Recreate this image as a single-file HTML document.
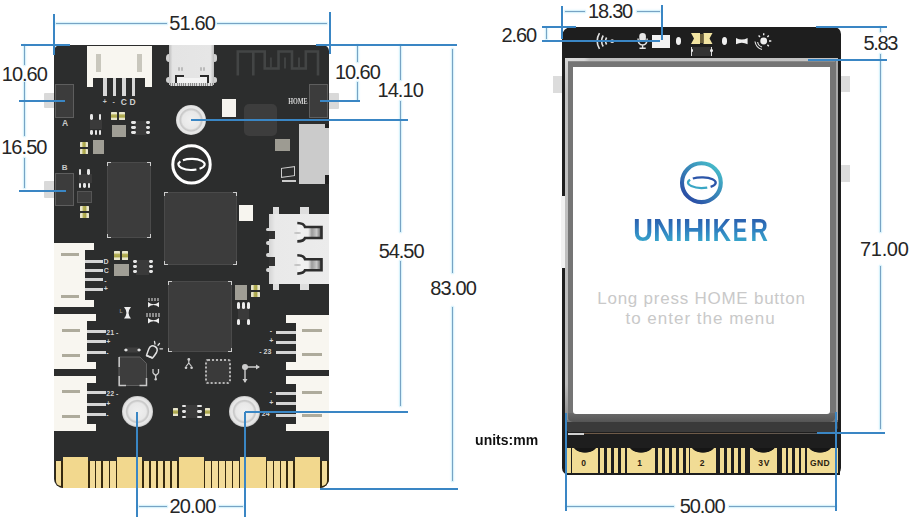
<!DOCTYPE html>
<html><head><meta charset="utf-8"><style>
html,body{margin:0;padding:0;background:#fff;}
#c{position:relative;width:918px;height:517px;overflow:hidden;background:#fff;font-family:"Liberation Sans",sans-serif;}
#c div{position:absolute;box-sizing:border-box;}
#c svg{position:absolute;}
.t{white-space:nowrap;}
</style></head><body><div id="c">
<div style="left:44px;top:93px;width:11px;height:15px;background:#d9d9d9;border-radius:1px"></div>
<div style="left:44px;top:181px;width:11px;height:17px;background:#d9d9d9;border-radius:1px"></div>
<div style="left:328px;top:93px;width:11px;height:16px;background:#d9d9d9;border-radius:1px"></div>
<div style="left:54px;top:44.5px;width:275px;height:443.5px;background:#2c2d2d;border-radius:6px 6px 9px 9px"></div>
<div style="left:86.6px;top:46px;width:65.4px;height:32px;background:#f8f6f0;"></div>
<div style="left:86.6px;top:78px;width:6.9px;height:9.4px;background:#f8f6f0;"></div>
<div style="left:145px;top:78px;width:7px;height:9.4px;background:#f8f6f0;"></div>
<div style="left:96px;top:54px;width:5px;height:18px;background:#c9c7bd;"></div>
<div style="left:137px;top:54px;width:5px;height:18px;background:#c9c7bd;"></div>
<div style="left:103px;top:78px;width:3.6px;height:18px;background:#d8d8d8;"></div>
<div style="left:112.7px;top:78px;width:3.6px;height:18px;background:#d8d8d8;"></div>
<div style="left:122px;top:78px;width:3.6px;height:18px;background:#d8d8d8;"></div>
<div style="left:131.5px;top:78px;width:3.6px;height:18px;background:#d8d8d8;"></div>
<div class="t" style="left:102.71px;top:97.98px;font-size:7px;line-height:7px;color:#c8c8c8;font-weight:700;letter-spacing:0.00px;">+</div>
<div class="t" style="left:112.43px;top:97.91px;font-size:7px;line-height:7px;color:#c8c8c8;font-weight:700;letter-spacing:0.00px;">-</div>
<div class="t" style="left:120.75px;top:97.74px;font-size:8.5px;line-height:8.5px;color:#d0d0d0;font-weight:700;letter-spacing:0.00px;">C</div>
<div class="t" style="left:129.53px;top:97.65px;font-size:8.5px;line-height:8.5px;color:#d0d0d0;font-weight:700;letter-spacing:0.00px;">D</div>
<div style="left:166px;top:54px;width:6px;height:7.6px;background:#d0d0d0;border-radius:50%"></div>
<div style="left:166px;top:77.2px;width:6px;height:6.3px;background:#d0d0d0;border-radius:50%"></div>
<div style="left:211.5px;top:54px;width:5.8px;height:7.6px;background:#d0d0d0;border-radius:50%"></div>
<div style="left:211.5px;top:77.2px;width:5.8px;height:6.3px;background:#d0d0d0;border-radius:50%"></div>
<div style="left:169px;top:44.5px;width:45.3px;height:40.8px;background:linear-gradient(90deg,#bdbdbd,#e4e4e4 8%,#e6e6e6 92%,#bdbdbd);"></div>
<div style="left:177.6px;top:66.7px;width:2.0px;height:4.0px;background:#bbbbbb;border-radius:1px"></div>
<div style="left:180.6px;top:66.7px;width:2.0px;height:4.0px;background:#bbbbbb;border-radius:1px"></div>
<div style="left:200.2px;top:66.7px;width:2.0px;height:4.0px;background:#bbbbbb;border-radius:1px"></div>
<div style="left:203.2px;top:66.7px;width:2.0px;height:4.0px;background:#bbbbbb;border-radius:1px"></div>
<div style="left:174.6px;top:74.7px;width:9.0px;height:8.6px;background:#f2f2f2;border-top:2.5px solid #2b2b2b;border-left:2.5px solid #2b2b2b"></div>
<div style="left:199.7px;top:74.7px;width:9.0px;height:8.6px;background:#f2f2f2;border-top:2.5px solid #2b2b2b;border-right:2.5px solid #2b2b2b"></div>
<div style="left:183.6px;top:78px;width:16.1px;height:5.3px;background:#f4f4f4;"></div>
<div style="left:170px;top:83.3px;width:43.3px;height:3.2px;background:repeating-linear-gradient(90deg,#8a8a8a 0 1px,#dcdcdc 1px 2.2px);"></div>
<svg style="left:230px;top:44px" width="95" height="38" viewBox="0 0 95 38"><path d="M7.8 31.5 V7.5 H23.3 V31.5 M23.3 7.5 H34.7 V24.5 H48.5 V7.5 H62 V24.5 H75.8 V7.5 H88 V31.5" fill="none" stroke="#434545" stroke-width="2.6"/><path d="M40.9 13.5 V24.5 M55 13.5 V24.5 M69 13.5 V24.5" fill="none" stroke="#404242" stroke-width="2"/></svg>
<div style="left:54.5px;top:84.4px;width:19.9px;height:34.0px;background:#3c3c3c;border:1px solid #5e5e5e"></div>
<div class="t" style="left:61.99px;top:118.65px;font-size:8.5px;line-height:8.5px;color:#c8c8c8;font-weight:700;letter-spacing:0.00px;">A</div>
<div style="left:309px;top:84.4px;width:18.6px;height:33.4px;background:#3c3c3c;border:1px solid #5e5e5e"></div>
<div class="t" style="left:288.10px;top:96.96px;font-size:9px;line-height:9px;color:#d8d8d8;font-weight:700;letter-spacing:0.00px;font-family:Liberation Serif;transform:scaleX(0.6834);transform-origin:0.60px 0;">HOME</div>
<div style="left:176px;top:105px;width:30px;height:30px;border-radius:50%;background:radial-gradient(circle at 50% 50%,#f0f0f0 0,#e8e8e8 8.8px,#cfcfcf 10.2px,#c8c8c8 11px,#e8e8e8 12.2px,#e4e4e4 14px,#cacaca 15.2px)"></div>
<div style="left:122.2px;top:396.2px;width:30.6px;height:30.6px;border-radius:50%;background:radial-gradient(circle at 50% 50%,#f0f0f0 0,#e8e8e8 8.8px,#cfcfcf 10.2px,#c8c8c8 11px,#e8e8e8 12.2px,#e4e4e4 14px,#cacaca 15.2px)"></div>
<div style="left:229.0px;top:396.0px;width:30.6px;height:30.6px;border-radius:50%;background:radial-gradient(circle at 50% 50%,#f0f0f0 0,#e8e8e8 8.8px,#cfcfcf 10.2px,#c8c8c8 11px,#e8e8e8 12.2px,#e4e4e4 14px,#cacaca 15.2px)"></div>
<div style="left:222px;top:99.3px;width:14px;height:17.7px;background:#f5f3ee;"></div>
<div style="left:244px;top:104px;width:33px;height:32px;background:#3d3d3d;border-radius:5px"></div>
<div style="left:275px;top:138.7px;width:15px;height:12.0px;background:#9d9b92;"></div>
<div style="left:299px;top:123.5px;width:30px;height:60.5px;background:#cbcbcb;"></div>
<div style="left:325px;top:123.5px;width:4px;height:4.7px;background:#222;"></div>
<div style="left:325px;top:175.4px;width:4px;height:8.6px;background:#222;"></div>
<div style="left:281px;top:167px;width:14px;height:10px;background:transparent;border:1.5px solid #ccc;transform:skewY(-8deg)"></div>
<div style="left:282px;top:180px;width:14px;height:2px;background:#ccc;"></div>
<svg style="left:170px;top:143px" width="44" height="44" viewBox="0 0 44 44"><circle cx="21.5" cy="21.4" r="18.7" fill="none" stroke="#fff" stroke-width="3"/><path d="M12.91 17.25 A13.1 5.5 0 1 1 29.57 25.73" fill="none" stroke="#fff" stroke-width="2.1"/><path d="M26.41 26.50 A13.1 5.5 0 0 1 10.39 18.49" fill="none" stroke="#fff" stroke-width="2.1"/></svg>
<div style="left:89.5px;top:120px;width:12.0px;height:9px;background:#3a3a3a;"></div>
<div style="left:90.2px;top:114px;width:2.8px;height:5.5px;background:#e6e6e6;border-radius:1.4px"></div>
<div style="left:98.7px;top:114px;width:2.8px;height:5.5px;background:#e6e6e6;border-radius:1.4px"></div>
<div style="left:90.2px;top:129.5px;width:2.8px;height:5.5px;background:#e6e6e6;border-radius:1.4px"></div>
<div style="left:94.5px;top:129.5px;width:2.8px;height:5.5px;background:#e6e6e6;border-radius:1.4px"></div>
<div style="left:98.7px;top:129.5px;width:2.8px;height:5.5px;background:#e6e6e6;border-radius:1.4px"></div>
<div style="left:111px;top:111.7px;width:6px;height:8.7px;background:linear-gradient(180deg,#e9e6cc 0,#e9e6cc 22%,#b5b058 36%,#a8a448 64%,#e9e6cc 78%,#e9e6cc 100%);border-radius:0.5px"></div>
<div style="left:119px;top:111.7px;width:6px;height:8.7px;background:linear-gradient(180deg,#e9e6cc 0,#e9e6cc 22%,#b5b058 36%,#a8a448 64%,#e9e6cc 78%,#e9e6cc 100%);border-radius:0.5px"></div>
<div style="left:111.8px;top:125.3px;width:13.9px;height:11.7px;background:#a09e95;"></div>
<div style="left:134px;top:121px;width:12px;height:14px;background:#3a3a3a;"></div>
<div style="left:131px;top:121.2px;width:4.5px;height:2.8px;background:#e6e6e6;border-radius:1.4px"></div>
<div style="left:145.5px;top:121.2px;width:4.5px;height:2.8px;background:#e6e6e6;border-radius:1.4px"></div>
<div style="left:131px;top:126.2px;width:4.5px;height:2.8px;background:#e6e6e6;border-radius:1.4px"></div>
<div style="left:145.5px;top:126.2px;width:4.5px;height:2.8px;background:#e6e6e6;border-radius:1.4px"></div>
<div style="left:131px;top:131.2px;width:4.5px;height:2.8px;background:#e6e6e6;border-radius:1.4px"></div>
<div style="left:145.5px;top:131.2px;width:4.5px;height:2.8px;background:#e6e6e6;border-radius:1.4px"></div>
<div style="left:80px;top:142.2px;width:8.3px;height:5.3px;background:linear-gradient(90deg,#e9e6cc 0,#e9e6cc 22%,#b5b058 36%,#a8a448 64%,#e9e6cc 78%,#e9e6cc 100%);border-radius:0.5px"></div>
<div style="left:80px;top:149.2px;width:8.3px;height:5.2px;background:linear-gradient(90deg,#e9e6cc 0,#e9e6cc 22%,#b5b058 36%,#a8a448 64%,#e9e6cc 78%,#e9e6cc 100%);border-radius:0.5px"></div>
<div style="left:92.7px;top:140px;width:11.3px;height:14px;background:#a09e95;"></div>
<div style="left:106.6px;top:162.2px;width:44.0px;height:75.7px;background:#3c3c3c;border:1px solid #4a4a4a"></div>
<div style="left:106.6px;top:162.2px;width:4px;height:4px;border-left:1.5px solid #ccc;border-top:1.5px solid #ccc"></div>
<div style="left:146.6px;top:162.2px;width:4px;height:4px;border-right:1.5px solid #ccc;border-top:1.5px solid #ccc"></div>
<div style="left:106.6px;top:233.9px;width:4px;height:4px;border-left:1.5px solid #ccc;border-bottom:1.5px solid #ccc"></div>
<div style="left:146.6px;top:233.9px;width:4px;height:4px;border-right:1.5px solid #ccc;border-bottom:1.5px solid #ccc"></div>
<div class="t" style="left:61.86px;top:163.93px;font-size:8px;line-height:8px;color:#c8c8c8;font-weight:700;letter-spacing:0.00px;">B</div>
<div style="left:54.5px;top:172.8px;width:19.7px;height:33.6px;background:#3c3c3c;border:1px solid #5e5e5e"></div>
<div style="left:78.5px;top:174px;width:13.0px;height:9px;background:#3a3a3a;"></div>
<div style="left:78.7px;top:169px;width:2.8px;height:5.5px;background:#e6e6e6;border-radius:1.4px"></div>
<div style="left:87.2px;top:169px;width:2.8px;height:5.5px;background:#e6e6e6;border-radius:1.4px"></div>
<div style="left:78.7px;top:182.5px;width:2.8px;height:5.5px;background:#e6e6e6;border-radius:1.4px"></div>
<div style="left:83.2px;top:182.5px;width:2.8px;height:5.5px;background:#e6e6e6;border-radius:1.4px"></div>
<div style="left:87.7px;top:182.5px;width:2.8px;height:5.5px;background:#e6e6e6;border-radius:1.4px"></div>
<div style="left:77px;top:191px;width:15px;height:12px;background:#3d3d3d;border:1px solid #555"></div>
<div style="left:80px;top:205.7px;width:9px;height:5.3px;background:linear-gradient(90deg,#e9e6cc 0,#e9e6cc 22%,#b5b058 36%,#a8a448 64%,#e9e6cc 78%,#e9e6cc 100%);border-radius:0.5px"></div>
<div style="left:80px;top:212.6px;width:9px;height:5.3px;background:linear-gradient(90deg,#e9e6cc 0,#e9e6cc 22%,#b5b058 36%,#a8a448 64%,#e9e6cc 78%,#e9e6cc 100%);border-radius:0.5px"></div>
<div style="left:163.7px;top:192.2px;width:73.2px;height:72.8px;background:#3c3c3c;border:1px solid #4a4a4a"></div>
<div style="left:163.7px;top:192.2px;width:4px;height:4px;border-left:1.5px solid #ccc;border-top:1.5px solid #ccc"></div>
<div style="left:232.9px;top:192.2px;width:4px;height:4px;border-right:1.5px solid #ccc;border-top:1.5px solid #ccc"></div>
<div style="left:163.7px;top:261px;width:4px;height:4px;border-left:1.5px solid #ccc;border-bottom:1.5px solid #ccc"></div>
<div style="left:232.9px;top:261px;width:4px;height:4px;border-right:1.5px solid #ccc;border-bottom:1.5px solid #ccc"></div>
<div style="left:238.7px;top:205.2px;width:13.9px;height:16.3px;background:#f7f5ef;"></div>
<div style="left:272.5px;top:207.4px;width:6.4px;height:6.6px;background:#dedede;"></div>
<div style="left:300px;top:207.4px;width:9.2px;height:6.6px;background:#dedede;"></div>
<div style="left:272.5px;top:283px;width:6.4px;height:7px;background:#dedede;"></div>
<div style="left:300px;top:283px;width:9.2px;height:7px;background:#dedede;"></div>
<div style="left:265.5px;top:227.5px;width:4.5px;height:3.5px;background:#d8d8d8;border-radius:2px 0 0 2px"></div>
<div style="left:265.5px;top:241px;width:4.5px;height:3.5px;background:#d8d8d8;border-radius:2px 0 0 2px"></div>
<div style="left:265.5px;top:253px;width:4.5px;height:3.5px;background:#d8d8d8;border-radius:2px 0 0 2px"></div>
<div style="left:265.5px;top:268px;width:4.5px;height:3.5px;background:#d8d8d8;border-radius:2px 0 0 2px"></div>
<div style="left:268.8px;top:213.8px;width:60.7px;height:69.9px;background:linear-gradient(90deg,#d4d4d4,#e9e9e9 10%,#ececec);"></div>
<div style="left:268.8px;top:231.3px;width:6.4px;height:8.2px;background:#333;"></div>
<div style="left:268.8px;top:257px;width:6.4px;height:9.2px;background:#333;"></div>
<svg style="left:296px;top:221px" width="28" height="56" viewBox="0 0 28 56"><defs><linearGradient id="ua" x1="0" x2="1"><stop offset="0" stop-color="#f2f2f2"/><stop offset="0.45" stop-color="#eeeeee"/><stop offset="0.6" stop-color="#9a9a9a"/><stop offset="0.8" stop-color="#c8c8c8"/><stop offset="1" stop-color="#555"/></linearGradient></defs><path d="M1.3 2 Q8 2.2 9 6 H25.5 V17 H9 Q8 20.3 1.3 20.4" fill="url(#ua)" stroke="#2e2e2e" stroke-width="2.6"/><path d="M1.3 34.2 Q8 34.4 9 38.2 H25.5 V49.2 H9 Q8 52.5 1.3 52.6" fill="url(#ua)" stroke="#2e2e2e" stroke-width="2.6"/></svg>
<div style="left:294px;top:231.5px;width:6.5px;height:2.5px;background:#c4c4c4;border-radius:50%"></div>
<div style="left:294px;top:263.5px;width:6.5px;height:2.5px;background:#c4c4c4;border-radius:50%"></div>
<div style="left:54px;top:243px;width:30.8px;height:64.4px;background:#f8f6f0;"></div>
<div style="left:83.8px;top:243px;width:10.6px;height:7px;background:#f8f6f0;"></div>
<div style="left:83.8px;top:300.4px;width:10.6px;height:7.0px;background:#f8f6f0;"></div>
<div style="left:84.8px;top:259.9px;width:18.2px;height:3.0px;background:#d5d5d5;"></div>
<div style="left:84.8px;top:268.9px;width:18.2px;height:3.0px;background:#d5d5d5;"></div>
<div style="left:84.8px;top:278.1px;width:18.2px;height:3.0px;background:#d5d5d5;"></div>
<div style="left:84.8px;top:288.0px;width:18.2px;height:3.0px;background:#d5d5d5;"></div>
<div style="left:61.3px;top:252.5px;width:17.4px;height:3.3px;background:#aeab9c;"></div>
<div style="left:61.3px;top:294.5px;width:17.4px;height:3.3px;background:#aeab9c;"></div>
<div class="t" style="left:103.53px;top:258.19px;font-size:7px;line-height:7px;color:#d2d2d2;font-weight:700;letter-spacing:0.00px;">D</div>
<div class="t" style="left:103.71px;top:267.26px;font-size:7px;line-height:7px;color:#d2d2d2;font-weight:700;letter-spacing:0.00px;">C</div>
<div class="t" style="left:104.23px;top:277.11px;font-size:7px;line-height:7px;color:#d2d2d2;font-weight:700;letter-spacing:0.00px;">-</div>
<div class="t" style="left:103.71px;top:285.48px;font-size:7px;line-height:7px;color:#d2d2d2;font-weight:700;letter-spacing:0.00px;">+</div>
<div style="left:54px;top:314.4px;width:32.6px;height:54.8px;background:#f8f6f0;"></div>
<div style="left:85.6px;top:314.4px;width:10.4px;height:7.0px;background:#f8f6f0;"></div>
<div style="left:85.6px;top:362.2px;width:10.4px;height:7.0px;background:#f8f6f0;"></div>
<div style="left:86.6px;top:330.3px;width:19.1px;height:3.0px;background:#d5d5d5;"></div>
<div style="left:86.6px;top:340.4px;width:19.1px;height:3.0px;background:#d5d5d5;"></div>
<div style="left:86.6px;top:351.2px;width:19.1px;height:3.0px;background:#d5d5d5;"></div>
<div style="left:62.0px;top:328.5px;width:18.0px;height:3.3px;background:#aeab9c;"></div>
<div style="left:62.0px;top:353.5px;width:18.0px;height:3.3px;background:#aeab9c;"></div>
<div class="t" style="left:106.36px;top:328.76px;font-size:7px;line-height:7px;color:#d2d2d2;font-weight:700;letter-spacing:0.00px;">21 -</div>
<div class="t" style="left:106.21px;top:338.48px;font-size:7px;line-height:7px;color:#d2d2d2;font-weight:700;letter-spacing:0.00px;">+</div>
<div class="t" style="left:106.23px;top:349.11px;font-size:7px;line-height:7px;color:#d2d2d2;font-weight:700;letter-spacing:0.00px;">-</div>
<div style="left:54px;top:376px;width:32.6px;height:55px;background:#f8f6f0;"></div>
<div style="left:85.6px;top:376px;width:10.4px;height:7px;background:#f8f6f0;"></div>
<div style="left:85.6px;top:424px;width:10.4px;height:7px;background:#f8f6f0;"></div>
<div style="left:86.6px;top:391.2px;width:19.1px;height:3.0px;background:#d5d5d5;"></div>
<div style="left:86.6px;top:402.5px;width:19.1px;height:3.0px;background:#d5d5d5;"></div>
<div style="left:86.6px;top:412.9px;width:19.1px;height:3.0px;background:#d5d5d5;"></div>
<div style="left:62.0px;top:389.5px;width:18.0px;height:3.3px;background:#aeab9c;"></div>
<div style="left:62.0px;top:414.5px;width:18.0px;height:3.3px;background:#aeab9c;"></div>
<div class="t" style="left:106.36px;top:389.76px;font-size:7px;line-height:7px;color:#d2d2d2;font-weight:700;letter-spacing:0.00px;">22 -</div>
<div class="t" style="left:106.21px;top:400.48px;font-size:7px;line-height:7px;color:#d2d2d2;font-weight:700;letter-spacing:0.00px;">+</div>
<div class="t" style="left:106.23px;top:411.11px;font-size:7px;line-height:7px;color:#d2d2d2;font-weight:700;letter-spacing:0.00px;">-</div>
<div style="left:114.4px;top:251px;width:6.1px;height:8.6px;background:linear-gradient(180deg,#e9e6cc 0,#e9e6cc 22%,#b5b058 36%,#a8a448 64%,#e9e6cc 78%,#e9e6cc 100%);border-radius:0.5px"></div>
<div style="left:121.5px;top:251px;width:6.0px;height:8.6px;background:linear-gradient(180deg,#e9e6cc 0,#e9e6cc 22%,#b5b058 36%,#a8a448 64%,#e9e6cc 78%,#e9e6cc 100%);border-radius:0.5px"></div>
<div style="left:114.4px;top:264px;width:14.8px;height:12.2px;background:#a09e95;"></div>
<div style="left:136px;top:260px;width:13px;height:14.5px;background:#3a3a3a;"></div>
<div style="left:133.2px;top:260.2px;width:4.3px;height:2.8px;background:#e6e6e6;border-radius:1.4px"></div>
<div style="left:148.5px;top:260.2px;width:4.5px;height:2.8px;background:#e6e6e6;border-radius:1.4px"></div>
<div style="left:133.2px;top:265.2px;width:4.3px;height:2.8px;background:#e6e6e6;border-radius:1.4px"></div>
<div style="left:148.5px;top:265.2px;width:4.5px;height:2.8px;background:#e6e6e6;border-radius:1.4px"></div>
<div style="left:133.2px;top:270.2px;width:4.3px;height:2.8px;background:#e6e6e6;border-radius:1.4px"></div>
<div style="left:148.5px;top:270.2px;width:4.5px;height:2.8px;background:#e6e6e6;border-radius:1.4px"></div>
<div style="left:168.3px;top:281px;width:63.9px;height:71.4px;background:#3c3c3c;border:1px solid #4a4a4a"></div>
<div style="left:168.3px;top:281px;width:4px;height:4px;border-left:1.5px solid #ccc;border-top:1.5px solid #ccc"></div>
<div style="left:228.2px;top:281px;width:4px;height:4px;border-right:1.5px solid #ccc;border-top:1.5px solid #ccc"></div>
<div style="left:168.3px;top:348.4px;width:4px;height:4px;border-left:1.5px solid #ccc;border-bottom:1.5px solid #ccc"></div>
<div style="left:228.2px;top:348.4px;width:4px;height:4px;border-right:1.5px solid #ccc;border-bottom:1.5px solid #ccc"></div>
<div style="left:235px;top:285.2px;width:11.7px;height:14.4px;background:#a09e95;"></div>
<div style="left:250.7px;top:284.8px;width:9.3px;height:5.2px;background:linear-gradient(90deg,#e9e6cc 0,#e9e6cc 22%,#b5b058 36%,#a8a448 64%,#e9e6cc 78%,#e9e6cc 100%);border-radius:0.5px"></div>
<div style="left:250.7px;top:291.6px;width:9.3px;height:5.3px;background:linear-gradient(90deg,#e9e6cc 0,#e9e6cc 22%,#b5b058 36%,#a8a448 64%,#e9e6cc 78%,#e9e6cc 100%);border-radius:0.5px"></div>
<div style="left:238px;top:306px;width:11px;height:14px;background:#3a3a3a;"></div>
<div style="left:236.7px;top:302px;width:3.1px;height:6.5px;background:#ececec;border-radius:1.5px"></div>
<div style="left:241.89999999999998px;top:302px;width:3.1px;height:6.5px;background:#ececec;border-radius:1.5px"></div>
<div style="left:247.1px;top:302px;width:3.1px;height:6.5px;background:#ececec;border-radius:1.5px"></div>
<div style="left:236.7px;top:318.5px;width:3.1px;height:6.5px;background:#ececec;border-radius:1.5px"></div>
<div style="left:247.1px;top:318.5px;width:3.1px;height:6.5px;background:#ececec;border-radius:1.5px"></div>
<div style="left:296px;top:315.4px;width:33px;height:54.2px;background:#f8f6f0;"></div>
<div style="left:286px;top:315.4px;width:11px;height:7.5px;background:#f8f6f0;"></div>
<div style="left:286px;top:362.1px;width:11px;height:7.5px;background:#f8f6f0;"></div>
<div style="left:275.7px;top:330.5px;width:20.3px;height:3.0px;background:#d5d5d5;"></div>
<div style="left:275.7px;top:340.7px;width:20.3px;height:3.0px;background:#d5d5d5;"></div>
<div style="left:275.7px;top:350.9px;width:20.3px;height:3.0px;background:#d5d5d5;"></div>
<div style="left:302.0px;top:328.5px;width:20.0px;height:3.3px;background:#aeab9c;"></div>
<div style="left:302.0px;top:352.5px;width:20.0px;height:3.3px;background:#aeab9c;"></div>
<div class="t" style="left:269.73px;top:326.61px;font-size:7px;line-height:7px;color:#d2d2d2;font-weight:700;letter-spacing:0.00px;">-</div>
<div class="t" style="left:269.21px;top:336.98px;font-size:7px;line-height:7px;color:#d2d2d2;font-weight:700;letter-spacing:0.00px;">+</div>
<div class="t" style="left:259.23px;top:348.26px;font-size:7px;line-height:7px;color:#d2d2d2;font-weight:700;letter-spacing:0.00px;">- 23</div>
<div style="left:296px;top:376px;width:33px;height:55px;background:#f8f6f0;"></div>
<div style="left:286px;top:376px;width:11px;height:7.5px;background:#f8f6f0;"></div>
<div style="left:286px;top:423.5px;width:11px;height:7.5px;background:#f8f6f0;"></div>
<div style="left:275.7px;top:392.2px;width:20.3px;height:3.0px;background:#d5d5d5;"></div>
<div style="left:275.7px;top:402.4px;width:20.3px;height:3.0px;background:#d5d5d5;"></div>
<div style="left:275.7px;top:413.5px;width:20.3px;height:3.0px;background:#d5d5d5;"></div>
<div style="left:302.0px;top:390.5px;width:20.0px;height:3.3px;background:#aeab9c;"></div>
<div style="left:302.0px;top:413.5px;width:20.0px;height:3.3px;background:#aeab9c;"></div>
<div class="t" style="left:269.73px;top:388.11px;font-size:7px;line-height:7px;color:#d2d2d2;font-weight:700;letter-spacing:0.00px;">-</div>
<div class="t" style="left:269.21px;top:398.98px;font-size:7px;line-height:7px;color:#d2d2d2;font-weight:700;letter-spacing:0.00px;">+</div>
<div class="t" style="left:261.76px;top:410.26px;font-size:7px;line-height:7px;color:#d2d2d2;font-weight:700;letter-spacing:0.00px;">24</div>
<div class="t" style="left:119.55px;top:308.63px;font-size:5.5px;line-height:5.5px;color:#aaa;font-weight:400;letter-spacing:0.00px;">L</div>
<svg style="left:123.8px;top:307.3px" width="7" height="11.5" viewBox="0 0 7 11.5"><path d="M0 0 H7 Q2.2 5.75 7 11.5 H0 Q4.8 5.75 0 0 Z" fill="#eee"/></svg>
<svg style="left:148.2px;top:302.4px" width="11.1" height="5.4" viewBox="0 0 11.1 5.4"><path d="M0 0 Q5.55 4.6 11.1 0 V5.4 Q5.55 0.8 0 5.4 Z" fill="#eee"/></svg>
<svg style="left:148.2px;top:318.1px" width="11.1" height="5.6" viewBox="0 0 11.1 5.6"><path d="M0 0 Q5.55 4.7 11.1 0 V5.6 Q5.55 0.9 0 5.6 Z" fill="#eee"/></svg>
<div style="left:147.8px;top:297.6px;width:11.9px;height:3.4px;background:repeating-linear-gradient(90deg,#8a8a8a 0 2px,transparent 2px 3px);"></div>
<div style="left:146.4px;top:313.2px;width:14.3px;height:3.5px;background:repeating-linear-gradient(90deg,#8a8a8a 0 2px,transparent 2px 3px);"></div>
<svg style="left:123px;top:346px" width="19" height="8" viewBox="0 0 19 8"><rect x="4" y="1.5" width="11" height="5" fill="#3e3e3e"/><path d="M0.8 4 L3 2.2 L5 4 L3 5.8Z M18.2 4 L16 2.2 L14 4 L16 5.8Z" fill="#e0e0e0"/></svg>
<svg style="left:143px;top:340px" width="21" height="21" viewBox="0 0 21 21"><path d="M3.5 15.5 Q5 11 6 8.5 Q8 4.5 12 6.5 Q15.5 8.5 13.5 12.5 Q12 15 9.5 18 Z" fill="none" stroke="#e0e0e0" stroke-width="1.5" stroke-linejoin="round"/><path d="M3.5 15.5 L9.5 18" stroke="#e0e0e0" stroke-width="1.8"/><path d="M11.5 1.5 L12 4 M16.5 3.5 L15 5.2 M19.5 8.8 L17 8.8" stroke="#e0e0e0" stroke-width="1.3" stroke-linecap="round"/></svg>
<svg style="left:118px;top:356px" width="30" height="31" viewBox="0 0 30 31"><path d="M1 1 H22 L28.5 7.5 V29.5 H1 Z" fill="#3d3d3d" stroke="#606060" stroke-width="1"/><path d="M1.2 1 V11 M1.2 20 V29.5 H8 M21.5 29.5 H28.5 V22" fill="none" stroke="#c8c8c8" stroke-width="1.5"/></svg>
<svg style="left:151px;top:368px" width="10" height="13" viewBox="0 0 10 13"><path d="M2 1 V5 M7.5 1 V5 M2 5 L4.7 7.5 L7.5 5 M4.7 7.5 V11" fill="none" stroke="#cfcfcf" stroke-width="1.3"/><circle cx="4.7" cy="11.3" r="1.2" fill="#cfcfcf"/></svg>
<div style="left:205.4px;top:359.4px;width:25.9px;height:25.0px;background:#3a3a3a;border:2px dotted #b5b5b5;border-radius:3px"></div>
<svg style="left:239px;top:360px" width="26" height="28" viewBox="0 0 26 28"><circle cx="6" cy="7" r="3" fill="#ccc"/><path d="M6 7 H20 M6 7 V22" stroke="#ccc" stroke-width="1.4"/><path d="M17 4.5 L21 7 L17 9.5Z M3.5 19 L6 23 L8.5 19Z" fill="#ccc"/></svg>
<svg style="left:183.5px;top:357px" width="10" height="14" viewBox="0 0 10 14"><circle cx="4.8" cy="2.5" r="1.4" fill="#d0d0d0"/><path d="M4.8 3.5 V6 M4.8 6 L2 9.5 M4.8 6 L7.6 9.5" stroke="#d0d0d0" stroke-width="1.2"/><circle cx="2" cy="10.8" r="1.3" fill="#d0d0d0"/><circle cx="7.6" cy="10.8" r="1.3" fill="#d0d0d0"/></svg>
<div style="left:172.8px;top:407.5px;width:5.2px;height:8.5px;background:linear-gradient(180deg,#e9e6cc 0,#e9e6cc 22%,#b5b058 36%,#a8a448 64%,#e9e6cc 78%,#e9e6cc 100%);border-radius:0.5px"></div>
<div style="left:205px;top:407.5px;width:5.2px;height:8.5px;background:linear-gradient(180deg,#e9e6cc 0,#e9e6cc 22%,#b5b058 36%,#a8a448 64%,#e9e6cc 78%,#e9e6cc 100%);border-radius:0.5px"></div>
<div style="left:185px;top:405px;width:13px;height:12.8px;background:#3a3a3a;"></div>
<div style="left:181.5px;top:404.7px;width:4.5px;height:2.8px;background:#e6e6e6;border-radius:1.4px"></div>
<div style="left:197px;top:404.7px;width:4.5px;height:2.8px;background:#e6e6e6;border-radius:1.4px"></div>
<div style="left:181.5px;top:410.09999999999997px;width:4.5px;height:2.8px;background:#e6e6e6;border-radius:1.4px"></div>
<div style="left:197px;top:410.09999999999997px;width:4.5px;height:2.8px;background:#e6e6e6;border-radius:1.4px"></div>
<div style="left:181.5px;top:415.5px;width:4.5px;height:2.8px;background:#e6e6e6;border-radius:1.4px"></div>
<div style="left:197px;top:415.5px;width:4.5px;height:2.8px;background:#e6e6e6;border-radius:1.4px"></div>
<div style="left:55px;top:460.5px;width:274px;height:27.5px;background:#35290f;border-radius:0 0 9px 9px"></div>
<div style="left:62.5px;top:457.4px;width:25.3px;height:30.4px;background:#f2d88e;"></div>
<div style="left:117.4px;top:457.4px;width:24.9px;height:30.4px;background:#f2d88e;"></div>
<div style="left:178.7px;top:457.4px;width:25.3px;height:30.4px;background:#f2d88e;"></div>
<div style="left:240px;top:457.4px;width:25.5px;height:30.4px;background:#f2d88e;"></div>
<div style="left:295px;top:457.4px;width:25.2px;height:30.4px;background:#f2d88e;"></div>
<div style="left:89.7px;top:460.5px;width:5.1px;height:27.3px;background:#f3dc9a;"></div>
<div style="left:96.2px;top:460.5px;width:5.1px;height:27.3px;background:#f3dc9a;"></div>
<div style="left:103.4px;top:460.5px;width:5.2px;height:27.3px;background:#f3dc9a;"></div>
<div style="left:110.4px;top:460.5px;width:5.2px;height:27.3px;background:#f3dc9a;"></div>
<div style="left:144.29999999999998px;top:460.5px;width:5.1px;height:27.3px;background:#f3dc9a;"></div>
<div style="left:151.1px;top:460.5px;width:5.2px;height:27.3px;background:#f3dc9a;"></div>
<div style="left:158.29999999999998px;top:460.5px;width:5.2px;height:27.3px;background:#f3dc9a;"></div>
<div style="left:165.1px;top:460.5px;width:5.2px;height:27.3px;background:#f3dc9a;"></div>
<div style="left:172.0px;top:460.5px;width:5.2px;height:27.3px;background:#f3dc9a;"></div>
<div style="left:205.39999999999998px;top:460.5px;width:5.3px;height:27.3px;background:#f3dc9a;"></div>
<div style="left:212.39999999999998px;top:460.5px;width:5.3px;height:27.3px;background:#f3dc9a;"></div>
<div style="left:219.39999999999998px;top:460.5px;width:5.3px;height:27.3px;background:#f3dc9a;"></div>
<div style="left:226.29999999999998px;top:460.5px;width:5.3px;height:27.3px;background:#f3dc9a;"></div>
<div style="left:233.29999999999998px;top:460.5px;width:5.3px;height:27.3px;background:#f3dc9a;"></div>
<div style="left:267.3px;top:460.5px;width:5.3px;height:27.3px;background:#f3dc9a;"></div>
<div style="left:274.2px;top:460.5px;width:5.4px;height:27.3px;background:#f3dc9a;"></div>
<div style="left:281.2px;top:460.5px;width:5.3px;height:27.3px;background:#f3dc9a;"></div>
<div style="left:288.2px;top:460.5px;width:5.3px;height:27.3px;background:#f3dc9a;"></div>
<div style="left:55.8px;top:460.5px;width:4.9px;height:25.5px;background:#f3dc9a;border-radius:0 0 0 5px"></div>
<div style="left:322.3px;top:460.5px;width:5.0px;height:25.5px;background:#f3dc9a;border-radius:0 0 5px 0"></div>
<div style="left:553px;top:76px;width:11px;height:17px;background:#dcdcdc;"></div>
<div style="left:840px;top:76px;width:10px;height:16px;background:#dcdcdc;"></div>
<div style="left:840px;top:165px;width:10px;height:17px;background:#dcdcdc;"></div>
<div style="left:562.2px;top:27.4px;width:278.8px;height:448.1px;background:#1e1e1e;border-radius:9px 7px 7px 7px"></div>
<div style="left:561px;top:196px;width:4.5px;height:72px;background:#f2f2f2;"></div>
<div style="left:565.2px;top:58.3px;width:272.8px;height:374.2px;background:#757575;border-radius:1px 1px 6px 6px"></div>
<div style="left:565.2px;top:58.3px;width:272.8px;height:2.3px;background:linear-gradient(90deg,#dadada,#d6d6d6 7%,#bdbdbd 9%,#c4c4c4);"></div>
<div style="left:565.2px;top:58.3px;width:2.6px;height:361.7px;background:linear-gradient(180deg,#d6d6d6,#c2c2c2 10%,#bcbcbc 90%,#8a8a8a);"></div>
<div style="left:835.5px;top:60.6px;width:2.5px;height:359.4px;background:#a8a8a8;"></div>
<div style="left:567.8px;top:60.6px;width:267.7px;height:1.9px;background:#8a8a8a;"></div>
<div style="left:565.2px;top:421.7px;width:272.8px;height:10.8px;background:#3a3a3a;border-radius:0 0 6px 6px"></div>
<div style="left:567.8px;top:413px;width:267.7px;height:8.7px;background:linear-gradient(180deg,#6a6a6a,#555);border-radius:0 0 5px 5px"></div>
<div style="left:573.4px;top:66.6px;width:257.0px;height:347.2px;background:#ffffff;border-radius:0 0 3px 3px"></div>
<div style="left:567.6px;top:432.8px;width:16.4px;height:1.8px;background:#d0d0d0;"></div>
<div style="left:584px;top:432.8px;width:234px;height:1.6px;background:linear-gradient(90deg,#6e5a48,#6e5a48 70%,#555 100%);"></div>
<svg style="left:594px;top:32px" width="22" height="19" viewBox="0 0 22 19"><path d="M5.5 1.2 Q0.8 9 5.5 16.8 M9.2 3.5 Q6 9 9.2 14.5 M12.6 5.5 Q10.6 9 12.6 12.5" fill="none" stroke="#e2e2e2" stroke-width="1.6"/><circle cx="18.2" cy="9.2" r="1.9" fill="#e2e2e2"/></svg>
<svg style="left:637px;top:32px" width="12" height="18" viewBox="0 0 12 18"><rect x="2.3" y="0.9" width="6.6" height="9" rx="3.3" fill="#e6e6e6"/><path d="M1 6.5 Q1 13 5.6 13 Q10.2 13 10.2 6.5 M5.6 13 V16 M2.5 16.3 H8.7" fill="none" stroke="#e6e6e6" stroke-width="1.4"/></svg>
<div style="left:652.3px;top:34.8px;width:17.6px;height:13.0px;background:#f2f2f2;"></div>
<div style="left:675.7px;top:37.3px;width:5.4px;height:8.1px;background:#f0f0f0;border-radius:50%"></div>
<svg style="left:690.5px;top:32.5px" width="22" height="12" viewBox="0 0 22 12"><path d="M0 0 H9 V11 H0 L3 5.5 Z M21.5 0 H12.5 V11 H21.5 L18.5 5.5 Z" fill="#f2e4a2"/><rect x="9" y="1" width="3.5" height="9" fill="#6a5e3a"/></svg>
<div style="left:691px;top:47px;width:21.4px;height:9.3px;background:#333;border-left:1.5px solid #ddd;border-right:1.5px solid #ddd"></div>
<div style="left:690.5px;top:49px;width:2.5px;height:3px;background:#eee;border-radius:50%"></div>
<div style="left:710px;top:49px;width:2.5px;height:3px;background:#eee;border-radius:50%"></div>
<div style="left:722.3px;top:37.3px;width:5.1px;height:7.7px;background:#f0f0f0;border-radius:50%"></div>
<svg style="left:736px;top:38.4px" width="12" height="7" viewBox="0 0 12 7"><path d="M0 0 Q5.8 3 11.6 0 V6.2 Q5.8 3.2 0 6.2 Z" fill="#eee"/></svg>
<svg style="left:753px;top:32px" width="20" height="19" viewBox="0 0 20 19"><circle cx="10.7" cy="9" r="3.4" fill="#eee"/><path d="M10.7 1.2 V3.3 M15.8 3.6 L14.4 5 M18.3 9 H16 M15.8 14.2 L14.4 12.8 M5.6 3.6 L7 5" stroke="#eee" stroke-width="1.4"/><path d="M2 9.5 Q2.8 15.5 9 17.6 M4.6 10 Q5.3 13.8 9 15" fill="none" stroke="#e4e4e4" stroke-width="1.1"/></svg>
<svg style="left:675px;top:157px" width="52" height="52" viewBox="0 0 52 52"><defs><linearGradient id="lg" x1="0.85" y1="0.1" x2="0.15" y2="0.9"><stop offset="0" stop-color="#45b7c8"/><stop offset="1" stop-color="#2a4ea6"/></linearGradient></defs><circle cx="26.4" cy="25.7" r="19.4" fill="none" stroke="url(#lg)" stroke-width="4.1"/><path d="M17.82 21.52 A14 5.4 0 1 1 35.62 29.86" fill="none" stroke="#2b55a8" stroke-width="2.3"/><path d="M32.24 30.61 A14 5.4 0 0 1 15.13 22.74" fill="none" stroke="#3aa6c4" stroke-width="2.3"/></svg>
<div class="t" style="left:633.42px;top:214.83px;font-size:31.3px;line-height:31.3px;color:transparent;font-weight:700;letter-spacing:0.00px;background:linear-gradient(180deg,#2a55a8 0%,#2f7cbf 45%,#3ab4cf 100%);-webkit-background-clip:text;background-clip:text;transform:scaleX(0.8717);transform-origin:1.88px 0;">U</div>
<div class="t" style="left:653.41px;top:214.83px;font-size:31.3px;line-height:31.3px;color:transparent;font-weight:700;letter-spacing:0.00px;background:linear-gradient(180deg,#2a55a8 0%,#2f7cbf 45%,#3ab4cf 100%);-webkit-background-clip:text;background-clip:text;transform:scaleX(0.9510);transform-origin:2.09px 0;">N</div>
<div class="t" style="left:675.21px;top:214.83px;font-size:31.3px;line-height:31.3px;color:transparent;font-weight:700;letter-spacing:0.00px;background:linear-gradient(180deg,#2a55a8 0%,#2f7cbf 45%,#3ab4cf 100%);-webkit-background-clip:text;background-clip:text;transform:scaleX(0.8207);transform-origin:2.09px 0;">I</div>
<div class="t" style="left:683.21px;top:214.83px;font-size:31.3px;line-height:31.3px;color:transparent;font-weight:700;letter-spacing:0.00px;background:linear-gradient(180deg,#2a55a8 0%,#2f7cbf 45%,#3ab4cf 100%);-webkit-background-clip:text;background-clip:text;transform:scaleX(0.9456);transform-origin:2.09px 0;">H</div>
<div class="t" style="left:704.31px;top:214.83px;font-size:31.3px;line-height:31.3px;color:transparent;font-weight:700;letter-spacing:0.00px;background:linear-gradient(180deg,#2a55a8 0%,#2f7cbf 45%,#3ab4cf 100%);-webkit-background-clip:text;background-clip:text;transform:scaleX(0.8207);transform-origin:2.09px 0;">I</div>
<div class="t" style="left:711.91px;top:214.83px;font-size:31.3px;line-height:31.3px;color:transparent;font-weight:700;letter-spacing:0.00px;background:linear-gradient(180deg,#2a55a8 0%,#2f7cbf 45%,#3ab4cf 100%);-webkit-background-clip:text;background-clip:text;transform:scaleX(0.8160);transform-origin:2.09px 0;">K</div>
<div class="t" style="left:732.31px;top:214.83px;font-size:31.3px;line-height:31.3px;color:transparent;font-weight:700;letter-spacing:0.00px;background:linear-gradient(180deg,#2a55a8 0%,#2f7cbf 45%,#3ab4cf 100%);-webkit-background-clip:text;background-clip:text;transform:scaleX(0.6947);transform-origin:2.09px 0;">E</div>
<div class="t" style="left:749.81px;top:214.83px;font-size:31.3px;line-height:31.3px;color:transparent;font-weight:700;letter-spacing:0.00px;background:linear-gradient(180deg,#2a55a8 0%,#2f7cbf 45%,#3ab4cf 100%);-webkit-background-clip:text;background-clip:text;transform:scaleX(0.7701);transform-origin:2.09px 0;">R</div>
<div class="t" style="left:597.21px;top:289.92px;font-size:17px;line-height:17px;color:#c9c9c9;font-weight:400;letter-spacing:0.76px;">Long press HOME button</div>
<div class="t" style="left:625.44px;top:309.92px;font-size:17px;line-height:17px;color:#c9c9c9;font-weight:400;letter-spacing:1.00px;">to enter the menu</div>
<div style="left:566px;top:448px;width:274px;height:27px;background:#1e1e1e;"></div>
<div style="left:571.5px;top:448.2px;width:26.3px;height:25.3px;background:radial-gradient(ellipse 13px 9px at 50% -4px,#161616 92%,#f1dc95 100%);"></div>
<div style="left:627px;top:448.2px;width:27.5px;height:25.3px;background:radial-gradient(ellipse 13px 9px at 50% -4px,#161616 92%,#f1dc95 100%);"></div>
<div style="left:689.8px;top:448.2px;width:26.7px;height:25.3px;background:radial-gradient(ellipse 13px 9px at 50% -4px,#161616 92%,#f1dc95 100%);"></div>
<div style="left:750.3px;top:448.2px;width:27.1px;height:25.3px;background:radial-gradient(ellipse 13px 9px at 50% -4px,#161616 92%,#f1dc95 100%);"></div>
<div style="left:807px;top:448.2px;width:25.6px;height:25.3px;background:radial-gradient(ellipse 13px 9px at 50% -4px,#161616 92%,#f1dc95 100%);"></div>
<div style="left:566px;top:448.2px;width:4.7px;height:25.3px;background:#f1dc95;"></div>
<div style="left:600px;top:448.2px;width:4px;height:25.3px;background:#f1dc95;"></div>
<div style="left:607px;top:448.2px;width:4px;height:25.3px;background:#f1dc95;"></div>
<div style="left:614px;top:448.2px;width:4px;height:25.3px;background:#f1dc95;"></div>
<div style="left:621px;top:448.2px;width:4px;height:25.3px;background:#f1dc95;"></div>
<div style="left:657.5px;top:448.2px;width:4.0px;height:25.3px;background:#f1dc95;"></div>
<div style="left:664.5px;top:448.2px;width:4.0px;height:25.3px;background:#f1dc95;"></div>
<div style="left:671.5px;top:448.2px;width:4.0px;height:25.3px;background:#f1dc95;"></div>
<div style="left:678.5px;top:448.2px;width:4.0px;height:25.3px;background:#f1dc95;"></div>
<div style="left:685.5px;top:448.2px;width:3.5px;height:25.3px;background:#f1dc95;"></div>
<div style="left:720px;top:448.2px;width:4px;height:25.3px;background:#f1dc95;"></div>
<div style="left:727px;top:448.2px;width:4px;height:25.3px;background:#f1dc95;"></div>
<div style="left:734px;top:448.2px;width:4px;height:25.3px;background:#f1dc95;"></div>
<div style="left:741px;top:448.2px;width:4px;height:25.3px;background:#f1dc95;"></div>
<div style="left:781.6px;top:448.2px;width:4.0px;height:25.3px;background:#f1dc95;"></div>
<div style="left:788.2px;top:448.2px;width:4.0px;height:25.3px;background:#f1dc95;"></div>
<div style="left:794.8px;top:448.2px;width:4.0px;height:25.3px;background:#f1dc95;"></div>
<div style="left:801.4px;top:448.2px;width:4.0px;height:25.3px;background:#f1dc95;"></div>
<div style="left:833.4px;top:448.2px;width:5.1px;height:25.3px;background:#f1dc95;"></div>
<div class="t" style="left:581.31px;top:458.74px;font-size:8.5px;line-height:8.5px;color:#2a2210;font-weight:700;letter-spacing:0.00px;">0</div>
<div class="t" style="left:637.21px;top:458.65px;font-size:8.5px;line-height:8.5px;color:#2a2210;font-weight:700;letter-spacing:0.00px;">1</div>
<div class="t" style="left:699.86px;top:458.74px;font-size:8.5px;line-height:8.5px;color:#2a2210;font-weight:700;letter-spacing:0.00px;">2</div>
<div class="t" style="left:758.15px;top:458.74px;font-size:8.5px;line-height:8.5px;color:#2a2210;font-weight:700;letter-spacing:0.86px;">3V</div>
<div class="t" style="left:809.95px;top:458.74px;font-size:8.5px;line-height:8.5px;color:#2a2210;font-weight:700;letter-spacing:0.41px;">GND</div>
<div style="left:52.5px;top:14px;width:2.0px;height:41px;background:#3a86c4;z-index:2;"></div>
<div style="left:328.5px;top:12px;width:2.0px;height:42px;background:#3a86c4;z-index:2;"></div>
<div style="left:56px;top:23.0px;width:110.7px;height:1.0px;background:#78a3c4;box-shadow:0 0 1.5px 1px rgba(200,236,248,0.9);"></div>
<div style="left:216.7px;top:23.0px;width:110.3px;height:1.0px;background:#78a3c4;box-shadow:0 0 1.5px 1px rgba(200,236,248,0.9);"></div>
<div style="left:21px;top:43.7px;width:49px;height:2.0px;background:#3a86c4;z-index:2;"></div>
<div style="left:316px;top:43.7px;width:141px;height:2.0px;background:#3a86c4;z-index:2;"></div>
<div style="left:24.0px;top:44.7px;width:1.0px;height:19.9px;background:#78a3c4;box-shadow:0 0 1.5px 1px rgba(200,236,248,0.9);"></div>
<div style="left:24.0px;top:82px;width:1.0px;height:54.4px;background:#78a3c4;box-shadow:0 0 1.5px 1px rgba(200,236,248,0.9);"></div>
<div style="left:24.0px;top:158.4px;width:1.0px;height:29.6px;background:#78a3c4;box-shadow:0 0 1.5px 1px rgba(200,236,248,0.9);"></div>
<div style="left:18.6px;top:100.4px;width:46.5px;height:2.0px;background:#3a86c4;z-index:2;"></div>
<div style="left:18.6px;top:190.1px;width:47.5px;height:2.0px;background:#3a86c4;z-index:2;"></div>
<div style="left:357.0px;top:45px;width:1.0px;height:17px;background:#78a3c4;box-shadow:0 0 1.5px 1px rgba(200,236,248,0.9);"></div>
<div style="left:357.0px;top:82px;width:1.0px;height:18px;background:#78a3c4;box-shadow:0 0 1.5px 1px rgba(200,236,248,0.9);"></div>
<div style="left:320px;top:99.5px;width:40px;height:2.0px;background:#3a86c4;z-index:2;"></div>
<div style="left:400.0px;top:45px;width:1.0px;height:35px;background:#78a3c4;box-shadow:0 0 1.5px 1px rgba(200,236,248,0.9);"></div>
<div style="left:400.0px;top:101px;width:1.0px;height:131px;background:#78a3c4;box-shadow:0 0 1.5px 1px rgba(200,236,248,0.9);"></div>
<div style="left:400.0px;top:261px;width:1.0px;height:144.5px;background:#78a3c4;box-shadow:0 0 1.5px 1px rgba(200,236,248,0.9);"></div>
<div style="left:191px;top:119.0px;width:217px;height:2.0px;background:#3a86c4;z-index:2;"></div>
<div style="left:245px;top:411.2px;width:163px;height:2.0px;background:#3a86c4;z-index:2;"></div>
<div style="left:452.0px;top:49px;width:1.0px;height:224px;background:#78a3c4;box-shadow:0 0 1.5px 1px rgba(200,236,248,0.9);"></div>
<div style="left:452.0px;top:307px;width:1.0px;height:174px;background:#78a3c4;box-shadow:0 0 1.5px 1px rgba(200,236,248,0.9);"></div>
<div style="left:320px;top:487.8px;width:138px;height:2.0px;background:#3a86c4;z-index:2;"></div>
<div style="left:136.0px;top:412px;width:2.0px;height:105px;background:#3a86c4;z-index:2;"></div>
<div style="left:244.0px;top:412px;width:2.0px;height:105px;background:#3a86c4;z-index:2;"></div>
<div style="left:139px;top:506.0px;width:28px;height:1.0px;background:#78a3c4;box-shadow:0 0 1.5px 1px rgba(200,236,248,0.9);"></div>
<div style="left:219px;top:506.0px;width:24.3px;height:1.0px;background:#78a3c4;box-shadow:0 0 1.5px 1px rgba(200,236,248,0.9);"></div>
<div style="left:561.3px;top:6px;width:2.0px;height:33px;background:#3a86c4;z-index:2;"></div>
<div style="left:660.5px;top:5px;width:2.0px;height:35.4px;background:#3a86c4;z-index:2;"></div>
<div style="left:564.5px;top:11.0px;width:20.5px;height:1.0px;background:#78a3c4;box-shadow:0 0 1.5px 1px rgba(200,236,248,0.9);"></div>
<div style="left:637px;top:11.0px;width:23px;height:1.0px;background:#78a3c4;box-shadow:0 0 1.5px 1px rgba(200,236,248,0.9);"></div>
<div style="left:541.6px;top:25.5px;width:34.4px;height:2.0px;background:#3a86c4;z-index:2;"></div>
<div style="left:541.6px;top:40.2px;width:118.0px;height:2.0px;background:#3a86c4;z-index:2;"></div>
<div style="left:546.0px;top:28px;width:1.0px;height:11px;background:#78a3c4;box-shadow:0 0 1.5px 1px rgba(200,236,248,0.9);"></div>
<div style="left:816px;top:25.5px;width:71px;height:2.0px;background:#3a86c4;z-index:2;"></div>
<div style="left:808px;top:58.5px;width:79px;height:2.0px;background:#3a86c4;z-index:2;"></div>
<div style="left:880.0px;top:27px;width:1.0px;height:4.5px;background:#78a3c4;box-shadow:0 0 1.5px 1px rgba(200,236,248,0.9);"></div>
<div style="left:880.0px;top:53.5px;width:1.0px;height:178.8px;background:#78a3c4;box-shadow:0 0 1.5px 1px rgba(200,236,248,0.9);"></div>
<div style="left:880.0px;top:266px;width:1.0px;height:163px;background:#78a3c4;box-shadow:0 0 1.5px 1px rgba(200,236,248,0.9);"></div>
<div style="left:816.6px;top:432.0px;width:68.8px;height:2.0px;background:#3a86c4;z-index:2;"></div>
<div style="left:564.7px;top:413px;width:2.0px;height:98px;background:#3a86c4;z-index:2;"></div>
<div style="left:835.4px;top:411.8px;width:2.0px;height:99.2px;background:#3a86c4;z-index:2;"></div>
<div style="left:566px;top:506.0px;width:108px;height:1.0px;background:#78a3c4;box-shadow:0 0 1.5px 1px rgba(200,236,248,0.9);"></div>
<div style="left:729px;top:506.0px;width:107px;height:1.0px;background:#78a3c4;box-shadow:0 0 1.5px 1px rgba(200,236,248,0.9);"></div>
<div class="t" style="left:169.20px;top:12.73px;font-size:20px;line-height:20px;color:#262626;font-weight:400;letter-spacing:-0.87px;">51.60</div>
<div class="t" style="left:1.78px;top:64.33px;font-size:20px;line-height:20px;color:#262626;font-weight:400;letter-spacing:-1.01px;">10.60</div>
<div class="t" style="left:1.18px;top:137.43px;font-size:20px;line-height:20px;color:#262626;font-weight:400;letter-spacing:-0.94px;">16.50</div>
<div class="t" style="left:334.98px;top:62.23px;font-size:20px;line-height:20px;color:#262626;font-weight:400;letter-spacing:-1.06px;">10.60</div>
<div class="t" style="left:377.48px;top:80.43px;font-size:20px;line-height:20px;color:#262626;font-weight:400;letter-spacing:-0.94px;">14.10</div>
<div class="t" style="left:378.70px;top:240.63px;font-size:20px;line-height:20px;color:#262626;font-weight:400;letter-spacing:-1.04px;">54.50</div>
<div class="t" style="left:430.13px;top:277.93px;font-size:20px;line-height:20px;color:#262626;font-weight:400;letter-spacing:-0.85px;">83.00</div>
<div class="t" style="left:169.49px;top:496.23px;font-size:20px;line-height:20px;color:#262626;font-weight:400;letter-spacing:-0.82px;">20.00</div>
<div class="t" style="left:587.98px;top:1.03px;font-size:20px;line-height:20px;color:#262626;font-weight:400;letter-spacing:-1.21px;">18.30</div>
<div class="t" style="left:501.59px;top:25.23px;font-size:20px;line-height:20px;color:#262626;font-weight:400;letter-spacing:-1.11px;">2.60</div>
<div class="t" style="left:863.60px;top:32.83px;font-size:20px;line-height:20px;color:#262626;font-weight:400;letter-spacing:-1.42px;">5.83</div>
<div class="t" style="left:860.07px;top:239.23px;font-size:20px;line-height:20px;color:#262626;font-weight:400;letter-spacing:-0.34px;">71.00</div>
<div class="t" style="left:679.70px;top:496.03px;font-size:20px;line-height:20px;color:#262626;font-weight:400;letter-spacing:-1.04px;">50.00</div>
<div class="t" style="left:474.84px;top:431.71px;font-size:15.5px;line-height:15.5px;color:#111;font-weight:700;letter-spacing:0.00px;transform:scaleX(0.9038);transform-origin:0.96px 0;">units:mm</div>
</div></body></html>
